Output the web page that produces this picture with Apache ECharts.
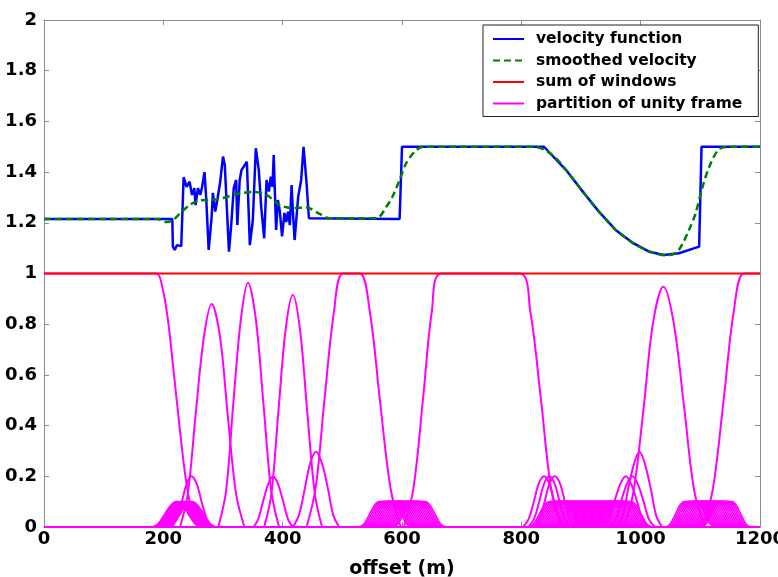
<!DOCTYPE html>
<html>
<head>
<meta charset="utf-8">
<script src="https://cdn.jsdelivr.net/npm/echarts@6/dist/echarts.min.js"></script>
<style>html,body{margin:0;padding:0;background:#fff}#c{width:778px;height:577px}</style>
</head>
<body>
<div id="c"></div>
<script>
// ---- data ----
const xTicks = [0, 200, 400, 600, 800, 1000, 1200];
const yTicks = [0, 0.2, 0.4, 0.6, 0.8, 1, 1.2, 1.4, 1.6, 1.8, 2];

const velocity = [[0,1.215],[215,1.215],[216,1.106],[219,1.093],[223,1.112],[226,1.105],[230,1.108],
[234,1.380],[239,1.342],[244,1.362],[248,1.310],[252,1.337],[254,1.270],[258,1.337],[262,1.310],[265,1.342],
[269,1.400],[272,1.29],[276,1.093],[281,1.224],[283,1.318],[287,1.244],[291,1.298],[295,1.357],[300,1.461],
[303,1.428],[310,1.086],[314,1.199],[318,1.337],[322,1.369],[324,1.191],[328,1.369],[331,1.408],[340,1.441],
[345,1.112],[350,1.211],[355,1.494],[360,1.408],[364,1.264],[369,1.139],[373,1.369],[377,1.323],[380,1.382],
[383,1.342],[385,1.467],[389,1.172],[392,1.29],[395,1.25],[399,1.146],[403,1.239],[406,1.203],[409,1.244],
[412,1.191],[415,1.349],[417,1.25],[420,1.132],[426,1.303],[431,1.369],[435,1.500],[440,1.357],[444,1.218],
[596,1.215],[600,1.5],[838,1.5],[875,1.408],[903,1.323],[930,1.244],[958,1.172],[986,1.122],[1014,1.086],
[1039,1.073],[1064,1.080],[1098,1.106],[1102,1.5],[1200,1.5]];

const smoothed = [[0,1.215],[190,1.215],[203,1.203],[214,1.207],[228,1.237],[244,1.27],[261,1.288],[278,1.29],
[295,1.294],[311,1.306],[328,1.316],[353,1.322],[373,1.31],[395,1.27],[417,1.258],[440,1.26],[462,1.235],
[479,1.218],[557,1.218],[574,1.264],[584,1.303],[596,1.369],[607,1.435],[621,1.48],[635,1.5],[820,1.5],
[840,1.487],[860,1.45],[875,1.408],[903,1.323],[930,1.244],[958,1.172],[986,1.122],[1014,1.088],[1040,1.073],
[1050,1.073],[1064,1.093],[1081,1.172],[1092,1.237],[1103,1.336],[1115,1.421],[1131,1.49],[1150,1.5],[1200,1.5]];

const sumOfWindows = [[0,1],[1200,1]];
const zeroLine = [[0,0],[1200,0]];

// large windows of the frame
const winA = [[0,1],[188,1],[197,0.96],[207,0.83],[217,0.62],[227,0.40],[237,0.2],[247,0.07],[257,0.01],[265,0]];
const winB = [[228,0],[241,0.13],[254,0.44],[268,0.75],[281,0.88],[295,0.75],[308,0.44],[322,0.13],[336,0]];
const winC = [[292,0],[305,0.14],[317,0.48],[330,0.82],[342,0.964],[355,0.82],[368,0.48],[381,0.14],[394,0]];
const winD = [[369,0],[381,0.13],[393,0.46],[405,0.78],[417,0.915],[429,0.78],[441,0.46],[454,0.13],[466,0]];
const winE = [[440,0],[455,0.15],[470,0.5],[486,0.85],[501,1],[529,1],[546,0.85],[563,0.5],[581,0.15],[598,0]];
const winF = [[603,0],[619,0.15],[635,0.5],[650,0.85],[666,1],[797,1],[815,0.85],[833,0.5],[850,0.15],[868,0]];
const winG = [[972,0],[988,0.14],[1005,0.47],[1021,0.81],[1038,0.948],[1055,0.81],[1073,0.47],[1090,0.14],[1108,0]];
const winH = [[1104,0],[1121,0.15],[1139,0.5],[1156,0.85],[1173,1],[1200,1]];

// medium bells
const bell1 = [[214,0],[222,0.03],[231,0.1],[239,0.17],[247,0.2],[256,0.17],[264,0.1],[273,0.03],[281,0]];
const bell2 = [[351,0],[359,0.03],[367,0.1],[376,0.17],[384,0.2],[392,0.17],[401,0.1],[409,0.03],[417,0]];
const bell3 = [[417,0],[427,0.045],[437,0.15],[446,0.25],[456,0.297],[466,0.25],[476,0.15],[485,0.045],[495,0]];
const bell4 = [[803,0],[812,0.03],[821,0.1],[829,0.17],[838,0.2],[847,0.17],[855,0.1],[864,0.03],[873,0]];
const bell5 = [[812,0],[821,0.03],[830,0.1],[838,0.17],[847,0.2],[856,0.17],[864,0.1],[873,0.03],[882,0]];
const bell6 = [[821,0],[830,0.03],[839,0.1],[847,0.17],[856,0.2],[865,0.17],[873,0.1],[882,0.03],[891,0]];
const bell7 = [[937,0],[947,0.03],[956,0.1],[966,0.17],[975,0.2],[984,0.17],[994,0.1],[1003,0.03],[1013,0]];
const bell8 = [[948,0],[958,0.03],[967,0.1],[977,0.17],[986,0.2],[995,0.17],[1005,0.1],[1014,0.03],[1024,0]];
const bell9 = [[960,0],[970,0.045],[979,0.15],[989,0.25],[998,0.297],[1007,0.25],[1017,0.15],[1026,0.045],[1036,0]];

// small windows (height 0.1): ramp shape, cluster positions
const smallRampShape = [0, 0.015, 0.05, 0.085, 0.1];
const cluster1Peaks = [222, 224, 226, 228, 230, 232, 234, 236, 238, 240, 242, 244, 246, 248];
const cluster1HalfWidth = 40;
const cluster2Starts = [529,532,535,538,541,544,547,550,553,556,559,562,565,568,571,574,577,580,583,586];
const cluster3Starts = [813,816,819,822,825,828,831,834,837,840,843,846,849,852,855,858,861,864,867,870,873,876,879,882,885,888,891,894,897,900,903,906,909,912,915,918,921,924,927,930];
const cluster4Starts = [1043,1046,1049,1052,1055,1058,1061,1064,1067,1070,1073,1076,1079,1082,1085,1088,1091,1094,1097,1100,1103];
const cluster2Ramp = 33, cluster3Ramp = 34, cluster4Ramp = 30, smallTop = 20;

// ---- build ----
function rampPts(x0, len, dir) {
  const n = smallRampShape.length - 1;
  const pts = [];
  for (let i = 0; i <= n; i++) {
    const v = dir > 0 ? smallRampShape[i] : smallRampShape[n - i];
    pts.push([x0 + len * i / n, v]);
  }
  return pts;
}
function trap(s, ramp) {
  return rampPts(s, ramp, 1).concat(rampPts(s + ramp + smallTop, ramp, -1));
}
function peakBell(c, h) {
  return rampPts(c - h, h, 1).concat(rampPts(c, h, -1).slice(1));
}

const MAG = '#ff00ff';
const FR = 'partition of unity frame';
const series = [];
function mag(data, w, smooth) {
  series.push({name: FR, type: 'line', data: data, symbol: 'none', smooth: smooth ? 0.35 : false,
    lineStyle: {color: MAG, width: w}, itemStyle: {color: MAG}, z: 3, silent: true});
}
mag(zeroLine, 2, false);
[winA, winB, winC, winD, winE, winF, winG, winH].forEach(d => mag(d, 2, true));
[bell1, bell2, bell3, bell4, bell5, bell6, bell7, bell8, bell9].forEach(d => mag(d, 2, true));
cluster1Peaks.forEach(c => mag(peakBell(c, cluster1HalfWidth), 1.6, true));
cluster2Starts.forEach(s => mag(trap(s, cluster2Ramp), 1.6, true));
cluster3Starts.forEach(s => mag(trap(s, cluster3Ramp), 1.6, true));
cluster4Starts.forEach(s => mag(trap(s, cluster4Ramp), 1.6, true));

series.unshift(
  {name: 'velocity function', type: 'line', data: velocity, symbol: 'none',
   lineStyle: {color: '#0000ff', width: 2.5}, itemStyle: {color: '#0000ff'}, z: 4},
  {name: 'smoothed velocity', type: 'line', data: smoothed, symbol: 'none', smooth: 0.3,
   lineStyle: {color: '#008000', width: 2.5, type: [7, 4]}, itemStyle: {color: '#008000'}, z: 5},
  {name: 'sum of windows', type: 'line', data: sumOfWindows, symbol: 'none',
   lineStyle: {color: '#ff0000', width: 2.2}, itemStyle: {color: '#ff0000'}, z: 6}
);

const FONT = "'DejaVu Sans', sans-serif";
const GRAY = '#8c8c8c';
function axisCommon(extra) {
  return Object.assign({
    type: 'value',
    axisLine: {show: true, onZero: false, lineStyle: {color: GRAY, width: 1}},
    axisTick: {show: true, inside: true, length: 5, lineStyle: {color: GRAY}},
    splitLine: {show: false}
  }, extra);
}

const chart = echarts.init(document.getElementById('c'), null, {renderer: 'canvas'});
chart.setOption({
  animation: false,
  backgroundColor: '#fff',
  grid: {left: 44, right: 18, top: 20, bottom: 50, containLabel: false, outerBoundsMode: 'none'},
  xAxis: [
    axisCommon({min: xTicks[0], max: xTicks[xTicks.length - 1], interval: 200, position: 'bottom',
      axisLabel: {color: '#000', fontFamily: FONT, fontWeight: 'bold', fontSize: 18, margin: 3,
        formatter: v => String(v)},
      name: 'offset (m)', nameLocation: 'middle', nameGap: 33,
      nameTextStyle: {color: '#000', fontFamily: FONT, fontWeight: 'bold', fontSize: 19}}),
    axisCommon({min: xTicks[0], max: xTicks[xTicks.length - 1], interval: 200, position: 'top',
      axisLabel: {show: false}})
  ],
  yAxis: [
    axisCommon({min: yTicks[0], max: yTicks[yTicks.length - 1], interval: 0.2, position: 'left',
      axisLabel: {color: '#000', fontFamily: FONT, fontWeight: 'bold', fontSize: 18, margin: 7,
        formatter: v => String(Math.round(v * 10) / 10)}}),
    axisCommon({min: yTicks[0], max: yTicks[yTicks.length - 1], interval: 0.2, position: 'right',
      axisLabel: {show: false}})
  ],
  legend: {
    data: ['velocity function', 'smoothed velocity', 'sum of windows', FR],
    orient: 'vertical', left: 483, top: 25,
    padding: [6, 16, 5, 9],
    itemWidth: 31, itemHeight: 12, itemGap: 5.5,
    itemStyle: {opacity: 0},
    backgroundColor: '#fff', borderColor: '#222', borderWidth: 1,
    selectedMode: false,
    textStyle: {color: '#000', fontFamily: FONT, fontWeight: 'bold', fontSize: 15.5, padding: [0, 0, 0, 7]}
  },
  series: series
});
</script>
</body>
</html>
